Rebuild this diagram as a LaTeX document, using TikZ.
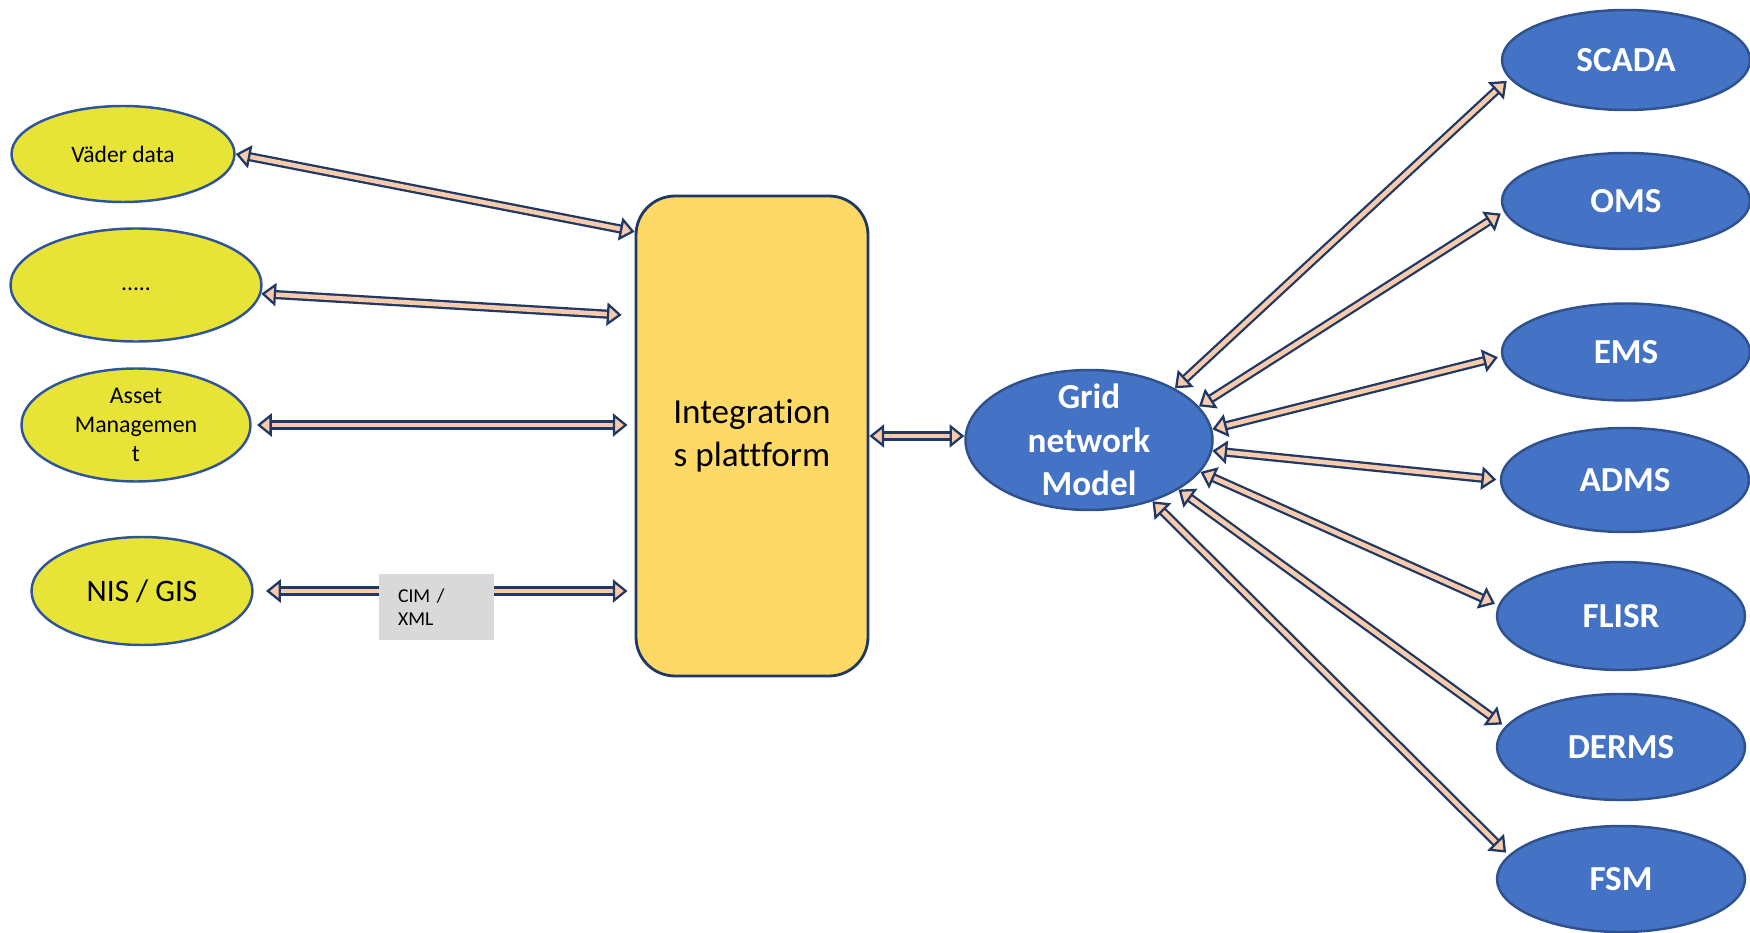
\documentclass[tikz,border=0pt]{standalone}
\usepackage{fontspec}
\setmainfont{Carlito}[Ligatures={NoCommon}]
\usepackage{tikz}
\usetikzlibrary{shapes.geometric,arrows.meta,positioning,calc}

\definecolor{navyline}{HTML}{1F3864}
\definecolor{peach}{HTML}{F8CBAD}
\definecolor{srcfill}{HTML}{E8E337}
\definecolor{srcline}{HTML}{2F5597}
\definecolor{platfill}{HTML}{FFD966}
\definecolor{appfill}{HTML}{4472C4}
\definecolor{appline}{HTML}{2F528F}
\definecolor{cimgray}{HTML}{D9D9D9}

\tikzset{
    srcnode/.style={ellipse, draw=srcline, fill=srcfill, line width=0.7pt,
        inner sep=0pt, align=center},
    appnode/.style={ellipse, draw=appline, fill=appfill, line width=0.7pt,
        inner sep=0pt, text=white, font=\fontsize{10}{12}\selectfont\bfseries},
    cimbox/.style={fill=cimgray, minimum width=1.15cm, minimum height=0.66cm,
        text width=0.77cm, inner xsep=0.19cm, align=left,
        font=\fontsize{5.6}{6.6}\selectfont},
    link/.style={draw=navyline, line width=0.65pt, double=peach, double distance=1.3pt,
        {Triangle[length=4.2pt,width=6.6pt,fill=peach]}-{Triangle[length=4.2pt,width=6.6pt,fill=peach]}},
}

\begin{document}
\begin{tikzpicture}
    \useasboundingbox (0,0) rectangle (17.5,9.32);

    % sources on the left
    \node[srcnode, minimum width=2.23cm, minimum height=0.96cm,
        font=\fontsize{6.7}{8}\selectfont] (vader) at (1.23,7.78) {Väder data};
    \node[srcnode, minimum width=2.51cm, minimum height=1.13cm,
        font=\fontsize{6.7}{8}\selectfont] (dots) at (1.36,6.47) {\strut.....};
    \node[srcnode, minimum width=2.29cm, minimum height=1.13cm,
        label={[align=center, font=\fontsize{6.8}{8.2}\selectfont]center:Asset\\Managemen\\t}]
        (asset) at (1.36,5.07) {};
    \node[srcnode, minimum width=2.21cm, minimum height=1.08cm,
        font=\fontsize{8.9}{10}\selectfont] (nis) at (1.42,3.41) {NIS / GIS};

    % platform in the middle
    \node[draw=navyline, fill=platfill, rounded corners=0.39cm, line width=0.8pt,
        minimum width=2.32cm, minimum height=4.80cm, align=center,
        font=\fontsize{10}{12.2}\selectfont] (integ) at (7.52,4.96) {Integration\\s plattform};

    \node[appnode, minimum width=2.47cm, minimum height=1.40cm,
        label={[text=white, align=center, font=\fontsize{10}{12.4}\selectfont\bfseries]center:Grid\\network\\Model}]
        (grid) at (10.89,4.92) {};

    % systems on the right
    \foreach \name/\txt/\x/\y/\h in {scada/SCADA/16.26/8.72/1.00, oms/OMS/16.26/7.31/0.96,
        ems/EMS/16.26/5.80/0.97, adms/ADMS/16.25/4.52/1.04, flisr/FLISR/16.21/3.16/1.08,
        derms/DERMS/16.21/1.85/1.06, fsm/FSM/16.21/0.53/1.06}
        \node[appnode, minimum width=2.48cm, minimum height=\h cm] (\name) at (\x,\y) {\txt};

    % links
    \draw[link] (vader.east) -- ($(integ.north west)!0.077!(integ.south west)$);
    \draw[link, shorten >=0.13cm] (dots.-4) -- ($(integ.north west)!0.251!(integ.south west)$);
    \draw[link, shorten <=1.5pt, shorten >=2pt] (asset.east) -- (asset.east -| integ.west);
    \draw[link, shorten <=3.5pt, shorten >=2pt] (nis.east)
        -- node[cimbox, pos=0.48, yshift=-0.16cm] (cim) {CIM /\\XML} (nis.east -| integ.west);
    \draw[link] (integ.east) -- (integ.east -| grid.west);

    \foreach \name/\a/\b in {scada/31/189, oms/17/185, ems/5/182, adms/-5/180,
        flisr/-16/175, derms/-29/170, fsm/-44/168}
        \draw[link, shorten >=1pt] (grid.\a) -- (\name.\b);
\end{tikzpicture}
\end{document}
